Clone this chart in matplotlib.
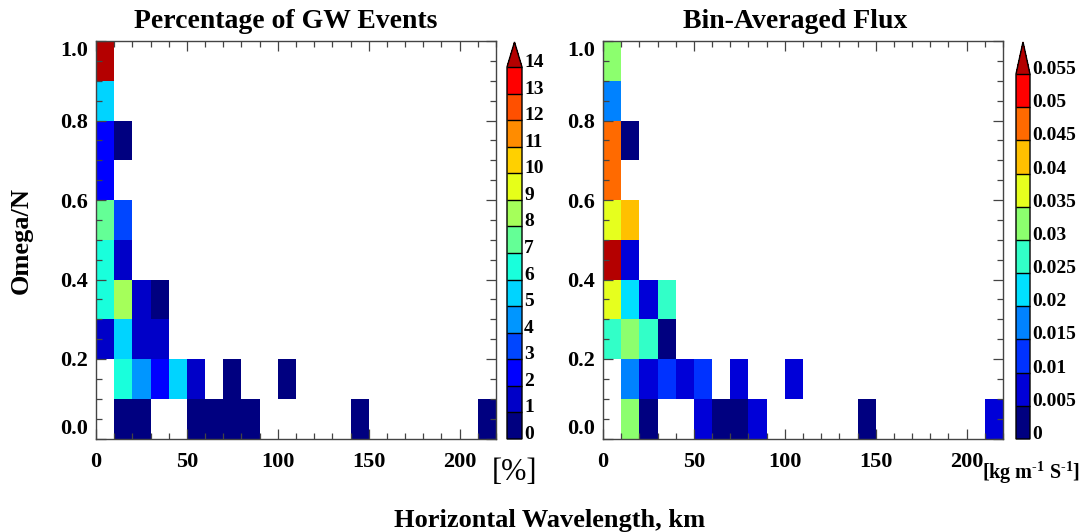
import numpy as np
import matplotlib
matplotlib.use("Agg")
import matplotlib.pyplot as plt
from matplotlib.colors import ListedColormap, BoundaryNorm
from matplotlib.ticker import MultipleLocator

plt.rcParams['font.family'] = ['Liberation Serif', 'DejaVu Serif']
plt.rcParams['font.weight'] = 'bold'
plt.rcParams['mathtext.fontset'] = 'custom'
plt.rcParams['mathtext.rm'] = 'Liberation Serif:bold'
plt.rcParams['mathtext.bf'] = 'Liberation Serif:bold'
plt.rcParams['mathtext.it'] = 'Liberation Serif:bold'

# ---------------- data ----------------
wavelength_edges = list(range(0, 230, 10))          # km
omega_edges = [round(0.1 * i, 1) for i in range(11)]  # Omega/N
N = None
# percentage of GW events, rows from Omega/N 0.0-0.1 (bottom) upward
pct_rows = [
    [N, 0.6, 0.6, N, N, 0.6, 0.6, 0.6, 0.6, N, N, N, N, N, 0.6, N, N, N, N, N, N, 0.6],
    [N, 6.5, 4.5, 2.5, 5.5, 1.5, N, 0.6, N, N, 0.6],
    [1.5, 5.5, 1.5, 1.5],
    [6.5, 8.5, 1.5, 0.6],
    [6.5, 1.5],
    [7.5, 3.5],
    [2.5],
    [2.5, 0.6],
    [5.5],
    [14.5],
]
# bin-averaged flux [kg m-1 s-1]
flux_rows = [
    [N, 0.032, 0.003, N, N, 0.008, 0.003, 0.003, 0.008, N, N, N, N, N, 0.003, N, N, N, N, N, N, 0.008],
    [N, 0.017, 0.008, 0.012, 0.008, 0.012, N, 0.008, N, N, 0.008],
    [0.027, 0.032, 0.027, 0.003],
    [0.037, 0.022, 0.008, 0.027],
    [0.058, 0.008],
    [0.037, 0.042],
    [0.047],
    [0.047, 0.003],
    [0.017],
    [0.032],
]
pct_levels = list(range(0, 15))
flux_levels = [0, 0.005, 0.01, 0.015, 0.02, 0.025, 0.03, 0.035, 0.04, 0.045, 0.05, 0.055]
flux_labels = ['0', '0.005', '0.01', '0.015', '0.02', '0.025', '0.03', '0.035',
               '0.04', '0.045', '0.05', '0.055']

pct_colors = ['#000080', '#0000c8', '#0000ff', '#0046ff', '#0096ff', '#00d4ff', '#19ffdc',
              '#64ff96', '#a5ff5a', '#e6ff19', '#ffd000', '#ff8c00', '#ff5000', '#ff0000']
flux_colors = ['#000080', '#0000d8', '#0032ff', '#0082ff', '#00e0ff', '#32ffc8',
               '#8cff6e', '#e6ff1e', '#ffc000', '#ff6a00', '#ff0000']
over_color = '#b40000'


def to_grid(rows, ncol):
    g = np.full((len(rows), ncol), np.nan)
    for i, r in enumerate(rows):
        for j, v in enumerate(r):
            if v is not None:
                g[i, j] = v
    return np.ma.masked_invalid(g)


ncol = len(wavelength_edges) - 1
pct = to_grid(pct_rows, ncol)
flux = to_grid(flux_rows, ncol)

W, H = 1080, 532
fig = plt.figure(figsize=(W / 100, H / 100), dpi=100)


def fx(x):
    return x / W


def fy(y):
    return 1 - y / H


ax_top, ax_bot = 41, 438.5
spine_c = '#444444'
tick_fs = 16
cbar_fs = 14


def style_axes(ax):
    ax.set_xlim(0, 220)
    ax.set_ylim(0, 1.0)
    ax.xaxis.set_major_locator(MultipleLocator(50))
    ax.xaxis.set_minor_locator(MultipleLocator(10))
    ax.yaxis.set_major_locator(MultipleLocator(0.2))
    ax.yaxis.set_minor_locator(MultipleLocator(0.05))
    ax.tick_params(which='both', direction='in', top=True, right=True, color=spine_c, width=0.9)
    ax.tick_params(which='major', length=7)
    ax.tick_params(which='minor', length=4)
    ax.tick_params(axis='x', which='major', pad=10, labelsize=tick_fs)
    ax.tick_params(axis='y', which='major', pad=6, labelsize=tick_fs)
    ax.set_yticks([0, 0.2, 0.4, 0.6, 0.8, 1.0])
    ax.set_yticklabels(['0.0', '0.2', '0.4', '0.6', '0.8', '1.0'])
    labs = ax.get_yticklabels()
    labs[0].set_va('bottom')
    labs[-1].set_va('top')
    for lab in ax.get_xticklabels() + ax.get_yticklabels():
        lab.set_fontweight('bold')
    for s in ax.spines.values():
        s.set_color(spine_c)
        s.set_linewidth(1.0)


def make_cbar(mesh, cax, levels, labels, extendfrac):
    cb = fig.colorbar(mesh, cax=cax, extend='max', extendfrac=extendfrac,
                      drawedges=True, ticks=levels)
    cb.outline.set_edgecolor('black')
    cb.outline.set_linewidth(1.0)
    cb.dividers.set_color('black')
    cb.dividers.set_linewidth(1.0)
    cax.tick_params(length=0, pad=1.5, labelsize=cbar_fs)
    cax.set_yticklabels(labels)
    for lab in cax.get_yticklabels():
        lab.set_va('baseline')
        lab.set_fontweight('bold')
    return cb


# ---- left panel ----
ax1 = fig.add_axes([fx(96), fy(ax_bot), fx(400), (ax_bot - ax_top) / H])
cmap1 = ListedColormap(pct_colors)
cmap1.set_over(over_color)
norm1 = BoundaryNorm(pct_levels, cmap1.N, extend='neither')
m1 = ax1.pcolormesh(wavelength_edges, omega_edges, pct, cmap=cmap1, norm=norm1,
                    antialiased=False)
style_axes(ax1)
cax1 = fig.add_axes([fx(507), fy(439), fx(15), (439 - 42) / H])
make_cbar(m1, cax1, pct_levels, [str(v) for v in pct_levels], 25 / 372)

# ---- right panel ----
ax2 = fig.add_axes([fx(603), fy(ax_bot), fx(400), (ax_bot - ax_top) / H])
cmap2 = ListedColormap(flux_colors)
cmap2.set_over(over_color)
norm2 = BoundaryNorm(flux_levels, cmap2.N, extend='neither')
m2 = ax2.pcolormesh(wavelength_edges, omega_edges, flux, cmap=cmap2, norm=norm2,
                    antialiased=False)
style_axes(ax2)
cax2 = fig.add_axes([fx(1016), fy(439), fx(14), (439 - 42) / H])
make_cbar(m2, cax2, flux_levels, flux_labels, 32 / 365)

# ---- texts ----
fig.text(fx(286), fy(21), 'Percentage of GW Events', ha='center', va='center',
         fontsize=20, fontweight='bold')
fig.text(fx(795), fy(21), 'Bin-Averaged Flux', ha='center', va='center',
         fontsize=20, fontweight='bold')
fig.text(fx(21), fy(240), 'Omega/N', rotation=90, ha='center', va='center',
         fontsize=19, fontweight='bold')
fig.text(fx(550), fy(520), 'Horizontal Wavelength, km', ha='center', va='center',
         fontsize=19, fontweight='bold')
fig.text(fx(514), fy(472), '[%]', ha='center', va='center', fontsize=22,
         fontweight='normal')
fig.text(fx(982), fy(479), r'[kg m$^{\text{-1}}$ S$^{\text{-1}}$]', ha='left', va='baseline',
         fontsize=14.5, fontweight='bold')

fig.savefig('out.png', dpi=100)
